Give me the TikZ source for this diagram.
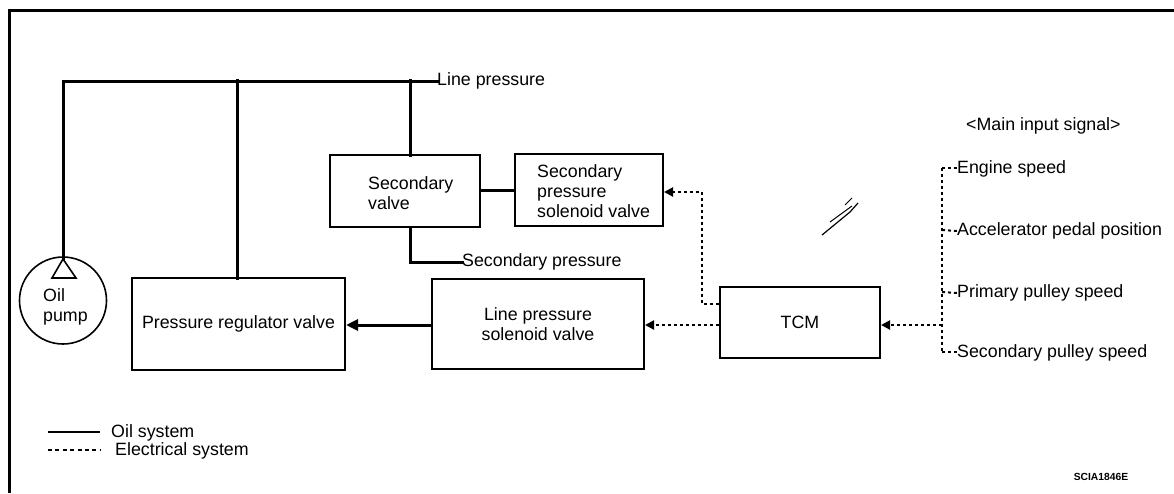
\documentclass[tikz,border=0pt]{standalone}
\usepackage{fontspec}
\setmainfont{Liberation Sans}
\usetikzlibrary{arrows.meta}
\begin{document}
\begin{tikzpicture}[x=1pt,y=-1pt,
  every node/.style={font=\fontsize{17.8}{20}\selectfont, inner sep=0pt},
  box/.style={draw, line width=2pt, minimum width=#1, anchor=center},
  oil/.style={line width=3pt, line cap=rect},
  elec/.style={line width=2pt, dash pattern=on 3pt off 3pt},
  elecarrow/.style={elec, -{Triangle[length=9pt,width=9pt]}},
  oilarrow/.style={line width=3pt, -{Triangle[length=12pt,width=11pt]}},
  lbl/.style={anchor=west}
]
\useasboundingbox (0,0) rectangle (1174,493);
% frame
\draw[line width=3pt] (9,493) -- (9,10) -- (1174,10);

% boxes
\node[box=213pt, minimum height=92pt] (prv) at (238.5,324) {Pressure regulator valve};
\node[box=150pt, minimum height=72pt, align=left] (sv) at (405,191) {};
\node[anchor=west, align=left] (svt) at (368,193) {Secondary\\valve};
\node[box=148pt, minimum height=72pt] (spsv) at (589,190) {};
\node[anchor=west, align=left] (spsvt) at (537,191) {Secondary\\pressure\\solenoid valve};
\node[box=212pt, minimum height=90pt, align=center] (lpsv) at (538,324) {Line pressure\\solenoid valve};
\node[box=160pt, minimum height=71pt] (tcm) at (800,322) {TCM};

% oil pump
\node[draw, circle, line width=1.6pt, minimum size=87pt] (pump) at (63,300.5) {};
\coordinate (apex) at (63,259);
\coordinate (tl) at (52,278);
\coordinate (tr) at (76,278);
\draw[line width=1.6pt, line join=miter] (apex) -- (tl) -- (tr) -- cycle;
\node[anchor=west, align=left] (pumpt) at (43,307) {Oil\\pump};

% labels
\node[lbl] (lp) at (437,81) {Line pressure};
\node[lbl] (sp) at (462,262) {Secondary pressure};
\node[lbl] (mis) at (966,126) {<Main input signal>};
\node[lbl] (es) at (957,169) {Engine speed};
\node[lbl] (ap) at (957,231) {Accelerator pedal position};
\node[lbl] (pps) at (957,293) {Primary pulley speed};
\node[lbl] (sps) at (957,353) {Secondary pulley speed};

% oil lines
\draw[oil] (apex) |- (lp.west);
\draw[oil] (237,80) -- (237,278);
\draw[oil] (410,80) -- (410,155);
\draw[oil] (sv.east |- 0,190) -- (spsv.west |- 0,190);
\draw[oil] (410,227) |- (sp.west);
\draw[oilarrow] (lpsv.west |- 0,325) -- (prv.east |- 0,325);

% electrical lines
\coordinate (bus1) at (942,168);
\coordinate (bus2) at (942,352);
\draw[elec] (bus1) -- (bus2);
\draw[elec] (bus1) -- (es.west |- bus1);
\draw[elec] (942,230) -- (ap.west);
\draw[elec] (942,292) -- (pps.west);
\draw[elec] (bus2) -- (sps.west |- bus2);
\draw[elecarrow] (942,325) -- (tcm.east |- 0,325);
\draw[elecarrow] (tcm.west |- 0,325) -- (lpsv.east |- 0,325);
\draw[elecarrow] (tcm.west |- 0,304) -- (702,304) -- (702,192) -- (spsv.east |- 0,192);

% pen mark
\draw[line width=1.2pt] (822,235) -- (850,212) -- (858,203);
\draw[line width=1pt] (830,222) -- (852,206);
\draw[line width=1pt] (845,205) -- (852,198);

% legend
\draw[line width=2pt] (48,432) -- (100,432);
\node[lbl] (ol) at (111,433) {Oil system};
\draw[line width=1.3pt, dash pattern=on 4pt off 3.4pt] (48,450) -- (100,450);
\node[lbl] (el) at (115,451) {Electrical system};

\node[font=\fontsize{10.3}{12}\selectfont\bfseries] (code) at (1101,477) {SCIA1846E};
\end{tikzpicture}
\end{document}
